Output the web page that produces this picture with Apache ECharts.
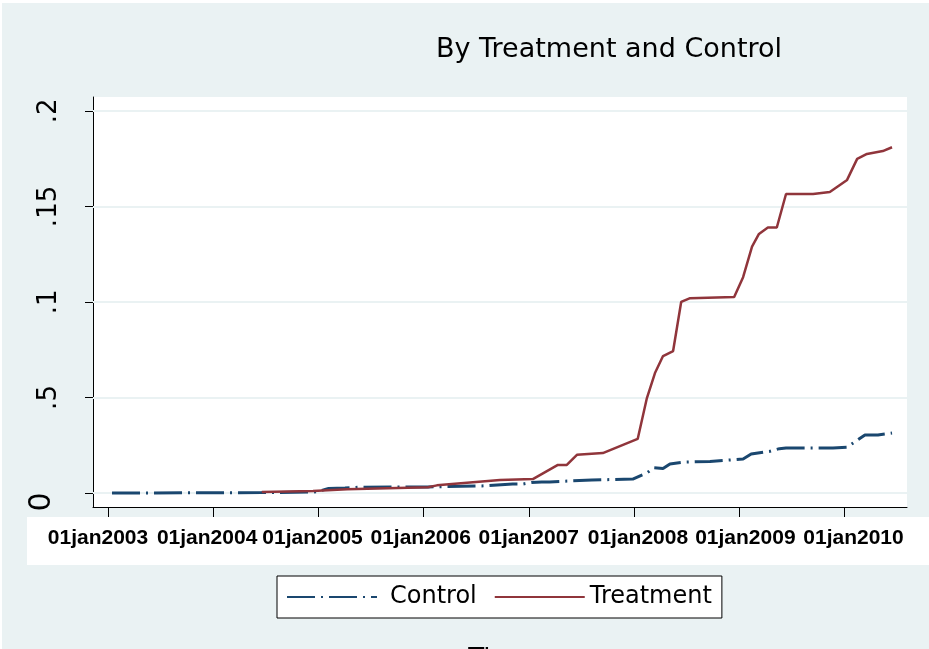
<!DOCTYPE html>
<html>
<head>
<meta charset="utf-8">
<script src="https://cdn.jsdelivr.net/npm/echarts@6/dist/echarts.min.js"></script>
<style>html,body{margin:0;padding:0;background:#fff}#c{width:929px;height:649px}</style>
</head>
<body>
<div id="c"></div>
<script>
var subtitleText = 'By Treatment and Control';
var xAxisTitle = 'Time';
var seriesNames = ['Control', 'Treatment'];

var xTickDates = ['2003-01-01','2004-01-01','2005-01-01','2006-01-01','2007-01-01','2008-01-01','2009-01-01','2010-01-01'];
var xTickLabels = ['01jan2003','01jan2004','01jan2005','01jan2006','01jan2007','01jan2008','01jan2009','01jan2010'];
var yTickValues = [0, 0.05, 0.1, 0.15, 0.2];
var yTickLabels = ['0', '.5', '.1', '.15', '.2'];

var controlDates = ['2003-01-15','2004-06-18','2004-12-13','2004-12-30','2005-02-05','2005-04-03','2005-05-18','2006-01-16','2006-07-22','2006-11-06','2006-12-11','2007-01-10','2007-02-15','2007-03-14','2007-08-08','2007-12-28','2008-02-15','2008-03-10','2008-04-11','2008-05-05','2008-06-26','2008-09-21','2009-01-14','2009-02-11','2009-03-31','2009-04-17','2009-05-20','2009-06-12','2009-11-22','2010-01-10','2010-03-13','2010-04-27','2010-06-15'];
var controlValues = [0.0, 0.0002, 0.0005, 0.0008, 0.0024, 0.0026, 0.003, 0.0032, 0.0037, 0.0047, 0.0047, 0.0055, 0.0058, 0.0058, 0.0068, 0.0073, 0.0105, 0.0132, 0.0128, 0.0152, 0.0162, 0.0165, 0.0178, 0.0204, 0.0215, 0.0218, 0.0232, 0.0236, 0.0236, 0.024, 0.0304, 0.0304, 0.0314];

var treatmentDates = ['2004-06-18','2004-12-13','2005-04-10','2006-01-16','2006-02-16','2006-09-23','2007-01-15','2007-04-12','2007-05-13','2007-06-17','2007-09-15','2008-01-14','2008-02-15','2008-03-14','2008-04-11','2008-05-16','2008-06-13','2008-07-14','2008-12-14','2009-01-14','2009-02-14','2009-03-10','2009-04-10','2009-05-11','2009-06-12','2009-09-14','2009-11-11','2010-01-10','2010-02-14','2010-03-20','2010-05-14','2010-06-15'];
var treatmentValues = [0.0005, 0.001, 0.002, 0.003, 0.004, 0.0068, 0.0073, 0.0147, 0.0147, 0.020, 0.0209, 0.0283, 0.0497, 0.0628, 0.0717, 0.0743, 0.100, 0.102, 0.1026, 0.113, 0.129, 0.1356, 0.139, 0.139, 0.1565, 0.1565, 0.1576, 0.1639, 0.1749, 0.1775, 0.179, 0.181];

// horizontal nudges (px) of each x tick label, as in the reference layout
var xLabelNudge = [-10, -6, -6, -3, 0, 4, 6, 9];

function ts(s) { var p = s.split('-'); return Date.UTC(+p[0], +p[1] - 1, +p[2]); }
function zip(d, v) { return d.map(function (x, i) { return [ts(x), v[i]]; }); }

var xTicks = xTickDates.map(ts);
var BG = '#EAF2F3';

var xRich = {};
xLabelNudge.forEach(function (s, i) {
  xRich['p' + i] = {
    fontFamily: 'Liberation Sans', fontWeight: 'bold', fontSize: 21, color: '#000',
    padding: s < 0 ? [0, -2 * s, 0, 0] : [0, 0, 0, 2 * s]
  };
});

var chart = echarts.init(document.getElementById('c'), null, { renderer: 'canvas' });
chart.setOption({
  animation: false,
  backgroundColor: BG,
  title: {
    text: subtitleText,
    left: 436, top: 36, padding: 0,
    textStyle: { fontFamily: 'DejaVu Sans', fontSize: 27, fontWeight: 'normal', color: '#000' }
  },
  graphic: [
    { type: 'rect', z: -10, silent: true, shape: { x: 0, y: 0, width: 929, height: 3 }, style: { fill: '#fff' } },
    { type: 'rect', z: -10, silent: true, shape: { x: 0, y: 0, width: 2, height: 649 }, style: { fill: '#fff' } },
    { type: 'rect', z: -10, silent: true, shape: { x: 27, y: 517, width: 902, height: 48 }, style: { fill: '#fff' } }
  ],
  legend: {
    data: [
      { name: seriesNames[0], textStyle: { padding: [0, 0, 0, 8] } },
      { name: seriesNames[1] }
    ],
    left: 277, top: 576,
    itemWidth: 90, itemHeight: 14, itemGap: 17,
    padding: [9, 10, 9, 9],
    itemStyle: { opacity: 0 },
    backgroundColor: '#fff', borderColor: '#000', borderWidth: 1, borderRadius: 0,
    textStyle: { fontFamily: 'DejaVu Sans', fontSize: 24, color: '#000' }
  },
  grid: {
    left: 93, top: 97, right: 22, bottom: 142,
    show: true, backgroundColor: '#fff', borderWidth: 0,
    containLabel: false, outerBoundsMode: 'none'
  },
  xAxis: {
    type: 'value',
    min: ts('2002-11-10'), max: ts('2010-08-06'),
    name: xAxisTitle, nameLocation: 'middle', nameGap: 140,
    nameTextStyle: { fontFamily: 'DejaVu Sans', fontSize: 26, color: '#000' },
    axisLine: { show: true, onZero: false, lineStyle: { color: '#000', width: 1 } },
    axisTick: { show: true, customValues: xTicks, length: 10, lineStyle: { color: '#000', width: 1 } },
    axisLabel: {
      customValues: xTicks,
      showMinLabel: true, showMaxLabel: true,
      formatter: function (v) {
        for (var i = 0; i < xTicks.length; i++) { if (Math.abs(xTicks[i] - v) < 43200000) return '{p' + i + '|' + xTickLabels[i] + '}'; }
        return '';
      },
      rich: xRich,
      fontFamily: 'Liberation Sans', fontWeight: 'bold', fontSize: 21, color: '#000',
      margin: 21
    },
    splitLine: { show: false }
  },
  yAxis: {
    type: 'value',
    min: -0.00733, max: 0.2073,
    axisLine: { show: true, onZero: false, lineStyle: { color: '#000', width: 1 } },
    axisTick: { show: true, customValues: yTickValues, length: 8, lineStyle: { color: '#000', width: 1 } },
    axisLabel: {
      customValues: yTickValues,
      rotate: 90,
      margin: 31,
      formatter: function (v) {
        for (var i = 0; i < yTickValues.length; i++) {
          if (Math.abs(yTickValues[i] - v) < 1e-6) return i === 0 ? '{z|' + yTickLabels[i] + '}' : yTickLabels[i];
        }
        return '';
      },
      rich: { z: { fontFamily: 'DejaVu Sans', fontSize: 30, color: '#000', padding: [0, 18, 5, 0] } },
      fontFamily: 'DejaVu Sans', fontSize: 26, color: '#000'
    },
    splitLine: { show: false }
  },
  series: [
    {
      name: seriesNames[0], type: 'line', symbol: 'none', z: 3,
      data: zip(controlDates, controlValues),
      lineStyle: { color: '#1A476F', width: 3, type: [28, 6, 2, 6], cap: 'butt' },
      itemStyle: { color: '#1A476F' }
    },
    {
      name: seriesNames[1], type: 'line', symbol: 'none', z: 3,
      data: zip(treatmentDates, treatmentValues),
      lineStyle: { color: '#90353B', width: 2.5 },
      itemStyle: { color: '#90353B' },
      markLine: {
        z: 1, silent: true, symbol: 'none', animation: false,
        label: { show: false },
        lineStyle: { color: BG, width: 2, type: 'solid' },
        data: yTickValues.map(function (v) { return { yAxis: v }; })
      }
    }
  ]
});
</script>
</body>
</html>
